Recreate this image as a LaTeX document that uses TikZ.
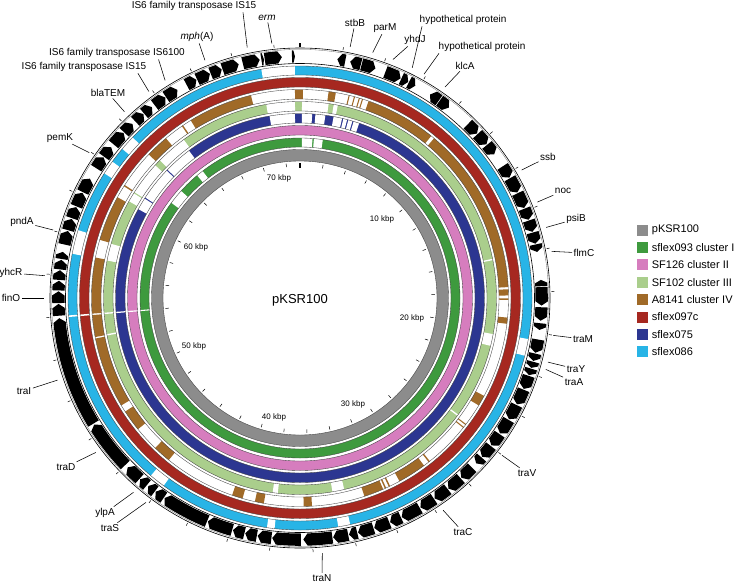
\documentclass[tikz,border=0pt]{standalone}
\usepackage{fontspec}
\setmainfont{Liberation Sans}
\usepackage{tikz}
\usetikzlibrary{positioning}

\definecolor{cgray}{RGB}{140,140,140}
\definecolor{cgreen}{RGB}{62,154,62}
\definecolor{cpink}{RGB}{214,125,190}
\definecolor{clgreen}{RGB}{170,206,140}
\definecolor{cbrown}{RGB}{160,106,40}
\definecolor{cred}{RGB}{166,40,32}
\definecolor{cblue}{RGB}{44,54,145}
\definecolor{clblue}{RGB}{40,180,230}

\tikzstyle{lbl} = [font=\fontsize{10}{12}\selectfont, inner sep=1.5pt]
\tikzstyle{lead} = [draw, line width=0.55pt]
\tikzstyle{kbp} = [font=\fontsize{8}{10}\selectfont, inner sep=0pt]
\tikzstyle{ringline} = [draw=black!75, line width=0.35pt]
\tikzstyle{tickmark} = [draw, line width=0.5pt]
\tikzstyle{swatch} = [rectangle, minimum width=11pt, minimum height=11pt, inner sep=0pt]
\tikzstyle{keytext} = [font=\fontsize{11}{13}\selectfont, anchor=west, inner sep=0pt]

% annulus sector: colour, r in, r out, from, to (degrees clockwise from top)
\newcommand{\ringsec}[5]{\fill[#1] ({90-(#4)}:#3) arc[start angle={90-(#4)}, end angle={90-(#5)}, radius=#3] -- ({90-(#5)}:#2) arc[start angle={90-(#5)}, end angle={90-(#4)}, radius=#2] -- cycle;}
% genes, tip at the end / at the start
\newcommand{\genecw}[2]{\pgfmathsetmacro\gtip{min(1.0,((#2)-(#1))/2)}%
  \fill ({90-(#1)}:247.8) arc[start angle={90-(#1)}, end angle={90-(#2)+\gtip}, radius=247.8] -- ({90-(#2)}:241.6) -- ({90-(#2)+\gtip}:235.5) arc[start angle={90-(#2)+\gtip}, end angle={90-(#1)}, radius=235.5] -- cycle;}
\newcommand{\geneccw}[2]{\pgfmathsetmacro\gtip{min(1.0,((#2)-(#1))/2)}%
  \fill ({90-(#2)}:247.8) arc[start angle={90-(#2)}, end angle={90-(#1)-\gtip}, radius=247.8] -- ({90-(#1)}:241.6) -- ({90-(#1)-\gtip}:235.5) arc[start angle={90-(#1)-\gtip}, end angle={90-(#2)}, radius=235.5] -- cycle;}

\begin{document}
\begin{tikzpicture}[x=1pt,y=1pt]
\useasboundingbox (-300,-284) rectangle (435,298);

% blast rings
\fill[cgray, even odd rule] (0,0) circle (148.5) (0,0) circle (137);
\fill[cgreen, even odd rule] (0,0) circle (160) (0,0) circle (151);
\fill[cpink, even odd rule] (0,0) circle (172.5) (0,0) circle (163);
\fill[cblue, even odd rule] (0,0) circle (184.5) (0,0) circle (175);
\fill[clgreen, even odd rule] (0,0) circle (196.5) (0,0) circle (187);
\fill[cred, even odd rule] (0,0) circle (220.5) (0,0) circle (211);
\fill[clblue, even odd rule] (0,0) circle (232) (0,0) circle (223);

\foreach \a/\b in {0.7/4.5, 5/8.2, 306.5/312, 320/322.5, 265.3/265.7}
  {\ringsec{white}{150.5}{160.5}{\a}{\b}}
\foreach \a/\b in {265.3/265.7}
  {\ringsec{white}{162.5}{173}{\a}{\b}}
\foreach \a/\b in {350.5/358.4, 0.6/3.8, 4.8/7.9, 10.5/13.2, 13.6/14.8, 15.2/16.5, 16.9/18.7, 265.3/265.7, 298.8/302.6, 303/313.7, 314.1/323}
  {\ringsec{white}{174.5}{185}{\a}{\b}}
\foreach \a/\b in {350.1/358.5, 0.6/8.4, 9.9/11.1, 78.5/78.9, 100.6/104.1, 126.4/126.8, 167/170.5, 186.5/188, 259/259.4, 265.3/265.7, 281/286, 299.5/302.2, 302.6/312.5, 314.5/323.7}
  {\ringsec{white}{186.5}{197}{\a}{\b}}
\foreach \a/\b in {239/258.8, 259.2/265.3, 265.7/281.2, 286.2/298.9, 302.4/302.8, 313.5/320, 325.5/325.9, 328.4/346.4, 358.6/360.8, 7.9/9.9, 13.5/13.8, 15/15.3, 16.4/16.7, 17.3/17.6, 19.2/39, 40/87, 87.6/89.3, 90.1/90.5, 95.4/97.1, 118/121, 127.2/127.5, 128.2/128.5, 141.5/141.9, 143.5/151.5, 154.4/154.8, 155.6/156, 156.5/162, 176.7/179, 190/192.5, 196/199, 219/224, 231/237}
  {\ringsec{cbrown}{199}{208.5}{\a}{\b}}
\foreach \a/\b in {265.3/265.7}
  {\ringsec{white}{210.5}{221}{\a}{\b}}
\foreach \a/\b in {350.4/358.7, 100.2/104.4, 167.5/170.5, 186.3/188.2, 216/220, 265.3/265.7, 281/287, 302.5/306, 310/313.8}
  {\ringsec{white}{222.5}{232.5}{\a}{\b}}

\foreach \r in {137,148.5,151,160,163,172.5,175,184.5,187,196.5,199,208.5,211,220.5,223,232}
  \draw[ringline] (0,0) circle (\r);

% genes
\foreach \a/\b in {296/299.6, 302.5/305.6, 305.8/308.6, 309.5/313.1, 313.3/316.1, 317/319.6, 319.8/322.2, 323/326.1, 326.3/329.5, 332/334.6, 334.8/338.1, 338.3/341.1, 341.3/345.3, 346.3/350.4, 350.8/351.4, 351.6/355.7, 358.1/358.8, 14.8/18.2, 20.7/24.6, 24.8/26.6, 26.8/28.5, 35.3/38, 44/47.1, 47.3/50.5, 50.7/53.5, 57/60.1, 60.3/64.1, 64.3/68.1, 68.3/71.1, 71.3/74.1, 74.3/77, 77.2/79, 87.4/91.8, 92.2/95.4, 96/97.6, 99.9/103.1, 103.3/105.1, 105.3/106.8, 107/108.6, 108.8/112.1, 112.3/116.1, 116.3/120.1, 120.3/124.1, 124.3/127.6, 127.8/131.1, 131.3/133.2, 134.6/138.1, 138.3/142.1, 142.3/146.1, 146.3/150.1, 150.3/155.1, 155.3/158.1, 158.3/162.1, 162.3/166.1, 166.3/168.3, 168.5/172.1, 172.3/179.2, 179.8/186.6, 186.8/190.1, 190.3/193.1, 193.3/196.1, 196.3/202.4, 202.6/214.1, 214.3/216.7, 216.9/218.9, 219.3/221.4, 221.6/225.5, 226.3/238.4, 238.7/265.2, 265.8/268.6, 268.8/271.6, 271.8/274.1, 274.3/276.6, 276.8/279.1, 279.3/281, 282.8/286.1, 286.3/289.1, 289.3/292.1, 292.3/295.8}
  {\genecw{\a}{\b}}
\foreach \a/\b in {8.9/10.8, 12/14.6, 32.6/35.1, 85.7/87.2}
  {\geneccw{\a}{\b}}
\draw[line width=0.6pt] (0,0) circle (250);
\draw[line width=0.3pt, black!60] (0,0) circle (248.6);
\draw[line width=0.6pt] (0,0) circle (234.5);

% ticks every 2 kbp
\foreach \k in {0,...,36} {
  \draw[tickmark] ({90-\k*9.836}:251.5) -- ({90-\k*9.836}:254.5);
  \draw[tickmark] ({90-\k*9.836}:131.5) -- ({90-\k*9.836}:135);
}
\draw[line width=2pt] (90:130.5) -- (90:135.5);
\draw[line width=1.5pt] (90:251) -- (90:255.5);

\node (k10) [kbp] at (82,79) {10 kbp};
\node (k20) [kbp] at (112,-20) {20 kbp};
\node (k30) [kbp] at (53,-106) {30 kbp};
\node (k40) [kbp] at (-26,-119) {40 kbp};
\node (k50) [kbp] at (-106,-48) {50 kbp};
\node (k60) [kbp] at (-104,51) {60 kbp};
\node (k70) [kbp] at (-21,120) {70 kbp};
\node (plasmid) [font=\fontsize{13}{15}\selectfont] at (0,-2) {pKSR100};

% gene labels
\node (istop) [lbl, anchor=east] at (-42,292) {IS6 family transposase IS15};
\coordinate (istoptip) at ({90+11.9}:256);
\draw[lead] ([xshift=-15pt]istop.south east) -- (istoptip);
\node (erm) [lbl] at (-33,280) {\itshape erm};
\coordinate (ermtip) at ({90+6.3}:256);
\draw[lead] (erm) -- (ermtip);
\node (mph) [lbl] at (-103,261) {{\itshape mph}(A)};
\coordinate (mphtip) at ({90-338.2}:256);
\draw[lead] (mph) -- (mphtip);
\node (is6100) [lbl] at (-183,245) {IS6 family transposase IS6100};
\coordinate (is6100tip) at ({90-328.2}:256);
\draw[lead] ([xshift=-28pt]is6100.south east) -- (is6100tip);
\node (is15) [lbl] at (-216,231) {IS6 family transposase IS15};
\coordinate (is15tip) at ({90-323.8}:256);
\draw[lead] ([xshift=-10pt]is15.south east) -- (is15tip);
\node (blatem) [lbl] at (-192,205) {blaTEM};
\coordinate (blatemtip) at ({90-316.7}:256);
\draw[lead] (blatem) -- (blatemtip);
\node (pemk) [lbl] at (-240,160) {pemK};
\coordinate (pemktip) at ({90-304.6}:256);
\draw[lead] (pemk) -- (pemktip);
\node (pnda) [lbl] at (-278,76) {pndA};
\coordinate (pndatip) at ({90-285.4}:256);
\draw[lead] (pnda) -- (pndatip);
\node (yhcr) [lbl] at (-289,25) {yhcR};
\coordinate (yhcrtip) at ({90-275}:256);
\draw[lead] (yhcr) -- (yhcrtip);
\node (fino) [lbl] at (-289,0) {finO};
\coordinate (finotip) at ({90-270}:256);
\draw[lead] (fino) -- (finotip);
\node (trai) [lbl] at (-276,-93) {traI};
\coordinate (traitip) at ({90-251.3}:256);
\draw[lead] (trai) -- (traitip);
\node (trad) [lbl] at (-234,-169) {traD};
\coordinate (tradtip) at ({90-232.9}:256);
\draw[lead] (trad) -- (tradtip);
\node (ylpa) [lbl] at (-195,-215) {ylpA};
\coordinate (ylpatip) at ({90-220.6}:256);
\draw[lead] (ylpa) -- (ylpatip);
\node (tras) [lbl] at (-190,-230) {traS};
\coordinate (trastip) at ({90-217}:256);
\draw[lead] (tras) -- (trastip);
\node (tran) [lbl] at (22,-280) {traN};
\coordinate (trantip) at ({90-175}:256);
\draw[lead] (tran) -- (trantip);
\node (trac) [lbl] at (163,-234) {traC};
\coordinate (tractip) at ({90-146}:256);
\draw[lead] (trac) -- (tractip);
\node (trav) [lbl] at (227,-175) {traV};
\coordinate (travtip) at ({90-127.9}:256);
\draw[lead] (trav) -- (travtip);
\node (traa) [lbl] at (274,-84) {traA};
\coordinate (traatip) at ({90-106.2}:256);
\draw[lead] (traa) -- (traatip);
\node (tray) [lbl] at (276,-71) {traY};
\coordinate (traytip) at ({90-104.5}:256);
\draw[lead] (tray) -- (traytip);
\node (tram) [lbl] at (283,-41) {traM};
\coordinate (tramtip) at ({90-98.4}:256);
\draw[lead] (tram) -- (tramtip);
\node (flmc) [lbl] at (284,45) {flmC};
\coordinate (flmctip) at ({90-79.5}:256);
\draw[lead] (flmc) -- (flmctip);
\node (psib) [lbl] at (276,79) {psiB};
\coordinate (psibtip) at ({90-74}:256);
\draw[lead] (psib) -- (psibtip);
\node (noc) [lbl] at (263,107) {noc};
\coordinate (noctip) at ({90-68}:256);
\draw[lead] (noc) -- (noctip);
\node (ssb) [lbl] at (248,141) {ssb};
\coordinate (ssbtip) at ({90-60}:256);
\draw[lead] (ssb) -- (ssbtip);
\node (klca) [lbl] at (165,232) {klcA};
\coordinate (klcatip) at ({90-34.5}:256);
\draw[lead] (klca) -- (klcatip);
\node (hyp2) [lbl, anchor=west] at (137,251) {hypothetical protein};
\coordinate (hyp2tip) at ({90-29}:256);
\draw[lead] ([xshift=2pt]hyp2.south west) -- (hyp2tip);
\node (hyp1) [lbl, anchor=west] at (118,278) {hypothetical protein};
\coordinate (hyp1tip) at ({90-26}:256);
\draw[lead] ([xshift=4pt]hyp1.south west) -- (hyp1tip);
\node (yhdj) [lbl] at (115,258) {yhdJ};
\coordinate (yhdjtip) at ({90-21.3}:256);
\draw[lead] (yhdj) -- (yhdjtip);
\node (parm) [lbl] at (85,270) {parM};
\coordinate (parmtip) at ({90-16.5}:256);
\draw[lead] (parm) -- (parmtip);
\node (stbb) [lbl] at (55,275) {stbB};
\coordinate (stbbtip) at ({90-11.3}:256);
\draw[lead] (stbb) -- (stbbtip);

% legend
\node (sw1) [swatch, fill=cgray] at (342,68) {};
\node (sw2) [swatch, fill=cgreen, below=6pt of sw1] {};
\node (sw3) [swatch, fill=cpink, below=6pt of sw2] {};
\node (sw4) [swatch, fill=clgreen, below=6pt of sw3] {};
\node (sw5) [swatch, fill=cbrown, below=6pt of sw4] {};
\node (sw6) [swatch, fill=cred, below=6pt of sw5] {};
\node (sw7) [swatch, fill=cblue, below=6pt of sw6] {};
\node (sw8) [swatch, fill=clblue, below=6pt of sw7] {};
\node (lg1) [keytext, right=4pt of sw1] {pKSR100};
\node (lg2) [keytext, right=4pt of sw2] {sflex093 cluster I};
\node (lg3) [keytext, right=4pt of sw3] {SF126 cluster II};
\node (lg4) [keytext, right=4pt of sw4] {SF102 cluster III};
\node (lg5) [keytext, right=4pt of sw5] {A8141 cluster IV};
\node (lg6) [keytext, right=4pt of sw6] {sflex097c};
\node (lg7) [keytext, right=4pt of sw7] {sflex075};
\node (lg8) [keytext, right=4pt of sw8] {sflex086};

\end{tikzpicture}
\end{document}
